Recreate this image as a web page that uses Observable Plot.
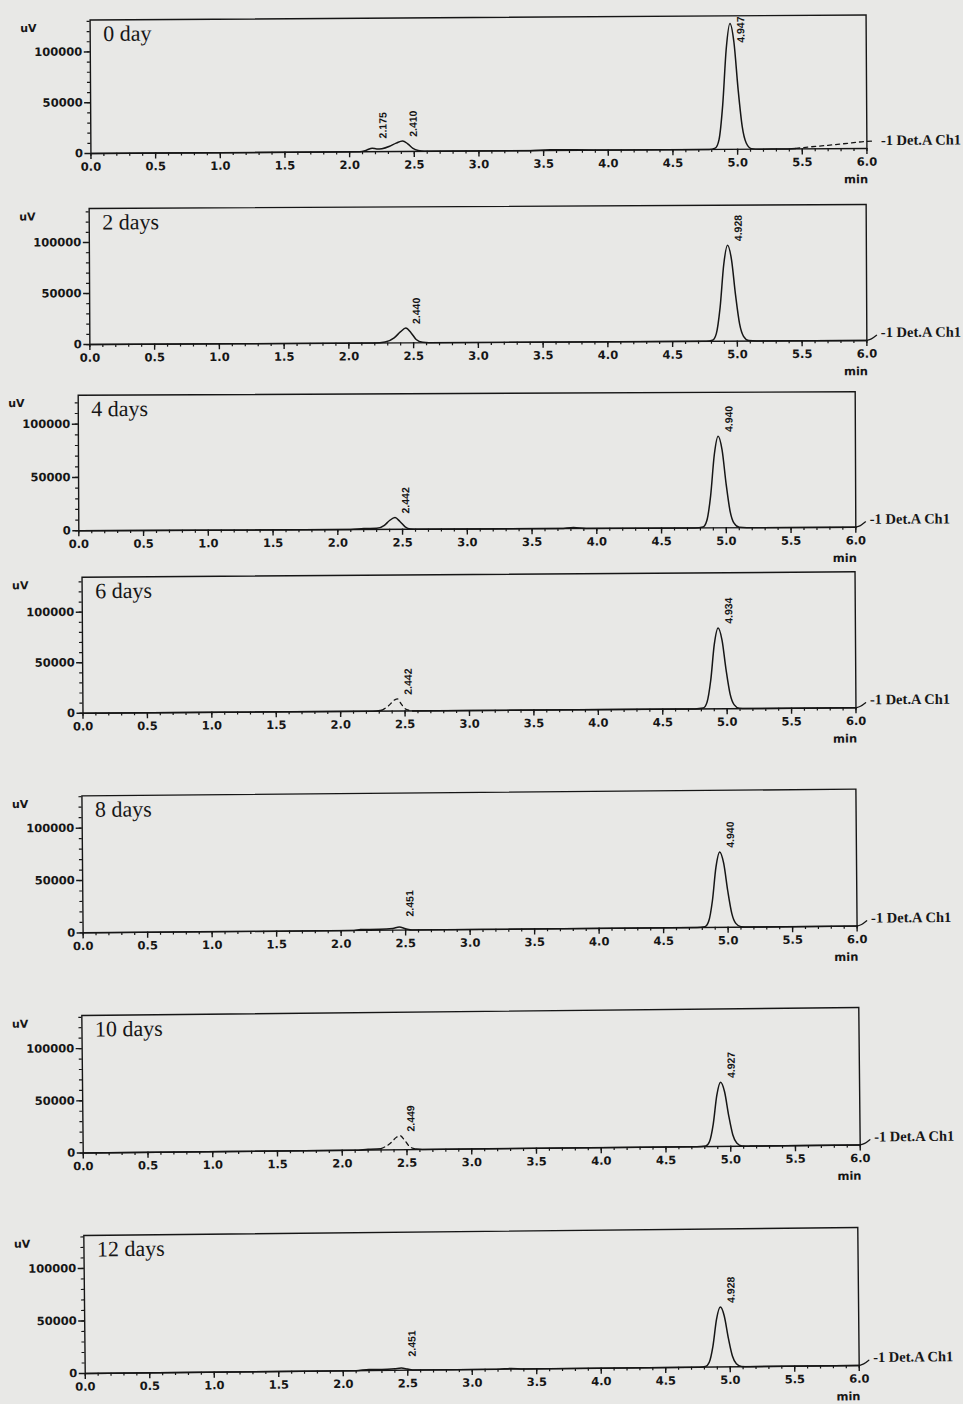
<!DOCTYPE html>
<html><head><meta charset="utf-8">
<script src="https://cdn.jsdelivr.net/npm/d3@7"></script>
<script src="https://cdn.jsdelivr.net/npm/@observablehq/plot@0.6"></script>
<style>
html,body{margin:0;padding:0;background:#e8e8e6;}
#chart{position:relative;width:963px;height:1404px;overflow:hidden;background:#e8e8e6;}
</style></head><body><div id="chart"></div>
<script>
// ---------- DATA ----------
const days = ["0 day", "2 days", "4 days", "6 days", "8 days", "10 days", "12 days"];
const peakTimes = [
  [2.175, 2.410, 4.947],
  [2.440, 4.928],
  [2.442, 4.940],
  [2.442, 4.934],
  [2.451, 4.940],
  [2.449, 4.927],
  [2.451, 4.928]
];
const peakHeights = [
  [3500, 10400, 124000],
  [14500, 94000],
  [11000, 86000],
  [12000, 80000],
  [2900, 72000],
  [13400, 61500],
  [2000, 57000]
];
const xTickValues = [0.0, 0.5, 1.0, 1.5, 2.0, 2.5, 3.0, 3.5, 4.0, 4.5, 5.0, 5.5, 6.0];
const yTickValues = [0, 50000, 100000];
const yMax = [131400, 133300, 127100, 134600, 130800, 131700, 131400];
const yUnit = "uV";
const xUnit = "min";
const detectorLabel = "-1 Det.A Ch1";

// solid trace segments (NaN = gap where the scan is faded)
const trace0 = [[0,0],[1.0,0],[2.08,0],[2.13,1500],[2.175,3500],[2.21,2600],[2.25,2900],[2.31,5200],[2.36,8300],[2.41,10400],[2.45,7500],[2.49,3000],[2.53,800],[2.58,0],[3.4,0],[3.55,700],[3.75,500],[4.1,0],[4.78,0],[4.827,1300],[4.857,9700],[4.887,43600],[4.917,98800],[4.947,124000],[4.977,105400],[5.007,59000],[5.037,22300],[5.067,6200],[5.107,600],[5.17,0],[5.35,0],[5.45,500]];
const trace1 = [[0,0],[2.2,0],[2.28,900],[2.35,5000],[2.40,11000],[2.44,14500],[2.48,10000],[2.52,3300],[2.57,500],[2.62,0],[4.76,0],[4.808,1000],[4.838,7500],[4.868,32900],[4.898,75200],[4.928,94000],[4.958,80000],[4.988,45100],[5.018,16900],[5.048,4700],[5.088,500],[5.15,0],[6.0,0]];
const trace2 = [[0,0],[2.1,0],[2.2,800],[2.3,1000],[2.36,3800],[2.40,8300],[2.442,11000],[2.48,7300],[2.52,2300],[2.56,300],[2.62,0],[3.72,0],[3.82,1000],[3.92,0],[4.76,0],[4.820,900],[4.850,6900],[4.880,30100],[4.910,68800],[4.940,86000],[4.970,73100],[5.000,41300],[5.030,15500],[5.060,4300],[5.100,400],[5.16,0],[6.0,0]];
const trace3 = [[0,0],[2.25,0],[2.32,800],[2.56,NaN],[2.56,0],[4.75,0],[4.814,800],[4.844,6400],[4.874,28000],[4.904,64000],[4.934,80000],[4.964,68000],[4.994,38400],[5.024,14400],[5.054,4000],[5.094,400],[5.15,0],[6.0,0]];
const trace4 = [[0,0],[2.1,0],[2.15,800],[2.3,900],[2.4,1600],[2.451,2900],[2.5,1300],[2.55,0],[4.76,0],[4.820,700],[4.850,5800],[4.880,25200],[4.910,57600],[4.940,72000],[4.970,61200],[5.000,34600],[5.030,13000],[5.060,3600],[5.100,400],[5.16,0],[6.0,0]];
const trace5 = [[0,0],[2.1,0],[2.2,800],[2.3,1200],[2.57,NaN],[2.57,500],[2.62,0],[4.74,0],[4.807,600],[4.837,4900],[4.867,21500],[4.897,49200],[4.927,61500],[4.957,52300],[4.987,29500],[5.017,11100],[5.047,3100],[5.087,300],[5.15,0],[6.0,0]];
const trace6 = [[0,0],[2.1,0],[2.2,1000],[2.3,800],[2.4,1400],[2.451,2000],[2.5,1000],[2.55,0],[3.2,0],[3.3,600],[3.4,0],[4.76,0],[4.808,600],[4.838,4600],[4.868,20000],[4.898,45600],[4.928,57000],[4.958,48500],[4.988,27400],[5.018,10300],[5.048,2900],[5.088,300],[5.15,0],[6.0,0]];
const traces = [trace0, trace1, trace2, trace3, trace4, trace5, trace6];

// faded (dashed-looking) parts of the traces
const faded0 = [[5.45,500],[5.55,1800],[5.7,3400],[5.85,5200],[6.0,7000],[6.06,7200]];
const faded3 = [[2.32,800],[2.37,5000],[2.42,11000],[2.442,12000],[2.47,7000],[2.51,1500],[2.56,0]];
const faded5 = [[2.3,1200],[2.37,6000],[2.42,12000],[2.449,13400],[2.48,9500],[2.52,3000],[2.57,500]];
const faded = [faded0, [], [], faded3, [], faded5, []];

// detector trace end hook (drawn past 6.0 min to the channel label)
const hookEnd = [[6.0,0],[6.035,1500],[6.075,5000]];

// ---------- LAYOUT (scan geometry of each pasted panel) ----------
const layout = [
  {left: 90, right: 866, top: 16.5, base: 150,   tilt: -0.37},
  {left: 89, right: 866, top: 206,  base: 342,   tilt: -0.30},
  {left: 78, right: 855, top: 392.5,base: 528,   tilt: -0.26},
  {left: 82, right: 855, top: 574,  base: 710,   tilt: -0.40},
  {left: 82, right: 856, top: 792,  base: 929,   tilt: -0.50},
  {left: 82, right: 859, top: 1011, base: 1148.5,tilt: -0.59},
  {left: 84, right: 858, top: 1231, base: 1369,  tilt: -0.59}
];

const ink = "#161616";
const sans = "DejaVu Sans";
const serif = "Liberation Serif";
const minorX = d3.range(0, 6.001, 0.1);

const chart = document.getElementById("chart");

layout.forEach((L, i) => {
  const mt = 12, mb = 44;
  const h = L.base - L.top;
  const ymax = yMax[i];
  const minorY = d3.range(0, ymax, 10000);
  const peaks = peakTimes[i].map((t, j) => ({t, h: peakHeights[i][j], label: t.toFixed(3)}));
  const labelCap = ymax * (1 - 31 / h);
  const X = d => d[0], Y = d => d[1];

  const svg = Plot.plot({
    width: 963,
    height: mt + h + mb,
    marginLeft: L.left,
    marginRight: 963 - L.right,
    marginTop: mt,
    marginBottom: mb,
    x: {domain: [0, 6]},
    y: {domain: [0, ymax]},
    style: {background: "transparent", color: ink, fontFamily: sans, fontSize: "11.5px", fontWeight: "bold", overflow: "visible"},
    marks: [
      Plot.axisX({ticks: minorX, tickSize: 3, tickFormat: () => "", label: null, strokeWidth: 1.2}),
      Plot.axisX({ticks: xTickValues, tickSize: 6, tickPadding: 3, tickFormat: d => d.toFixed(1), label: null, strokeWidth: 1.4}),
      Plot.axisY({ticks: minorY, tickSize: 3, tickFormat: () => "", label: null, strokeWidth: 1.2}),
      Plot.axisY({ticks: yTickValues, tickSize: 6, tickPadding: 2, tickFormat: d => String(d), label: null, strokeWidth: 1.4}),
      Plot.frame({stroke: ink, strokeWidth: 1.4}),
      Plot.line(traces[i], {x: X, y: Y, curve: "monotone-x", stroke: ink, strokeWidth: 1.5}),
      Plot.line(faded[i], {x: X, y: Y, curve: "monotone-x", stroke: ink, strokeWidth: 1.3, strokeDasharray: "4,4"}),
      Plot.line(i === 0 ? [] : hookEnd, {x: X, y: Y, curve: "monotone-x", stroke: ink, strokeWidth: 1.3}),
      Plot.text(peaks, {x: "t", y: d => Math.min(Math.max(d.h, 9000), labelCap), text: "label", rotate: -90,
        textAnchor: "start", dx: 11, dy: -4, fontFamily: "Liberation Sans", fontSize: 10.5, fontWeight: "bold", fill: ink}),
      Plot.text([days[i]], {frameAnchor: "top-left", text: d => d, dx: 13, dy: 14, textAnchor: "start", lineAnchor: "middle",
        fontFamily: serif, fontSize: 22, fontWeight: "normal", fill: ink}),
      Plot.text([yUnit], {frameAnchor: "top-left", text: d => d, dx: -70, dy: 8, textAnchor: "start", lineAnchor: "middle",
        fontSize: 11, fill: ink}),
      Plot.text([xUnit], {frameAnchor: "bottom-right", text: d => d, dx: 1, dy: 31, textAnchor: "end", lineAnchor: "middle",
        fontSize: 11.5, fill: ink}),
      Plot.text([detectorLabel], {frameAnchor: "bottom-right", text: d => d, dx: 14, dy: -8, textAnchor: "start", lineAnchor: "middle",
        fontFamily: serif, fontSize: 14.5, fontWeight: "bold", fill: ink})
    ]
  });
  svg.style.position = "absolute";
  svg.style.left = "0px";
  svg.style.top = (L.top - mt) + "px";
  svg.style.transformOrigin = `${(L.left + L.right) / 2}px ${mt + h / 2}px`;
  svg.style.transform = `rotate(${L.tilt}deg)`;
  chart.appendChild(svg);
});
</script>
</body></html>
